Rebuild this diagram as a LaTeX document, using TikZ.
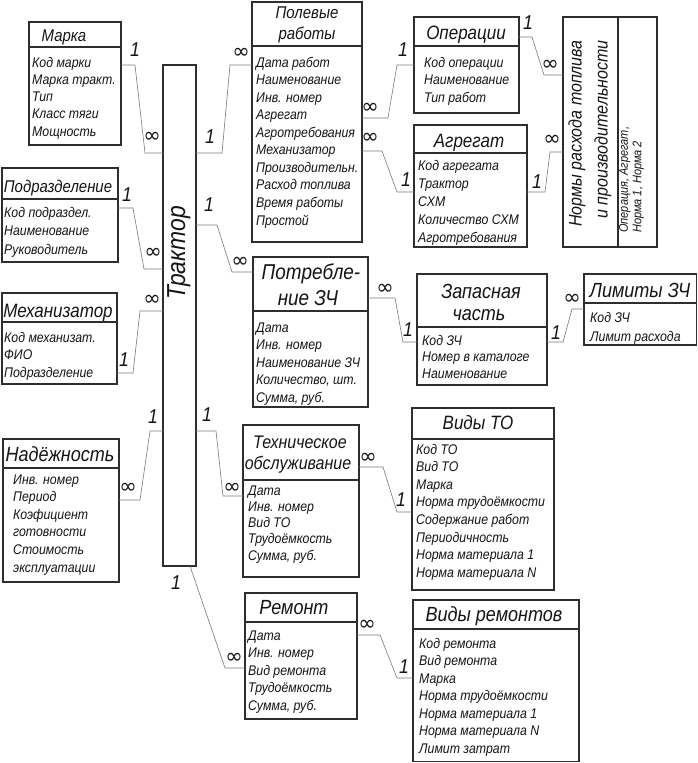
\documentclass[tikz,border=0pt]{standalone}
\usepackage{fontspec}
\setmainfont{Liberation Sans}[FakeStretch=0.88]
\newfontfamily\symf{DejaVu Sans}
\definecolor{boxc}{HTML}{2E2E2E}
\definecolor{connc}{HTML}{7A7A7A}
\definecolor{txtc}{HTML}{151515}
\tikzset{
 ebox/.style={draw=boxc, line width=1.1pt, inner sep=0pt, outer sep=0pt, anchor=north west},
 sepl/.style={draw=boxc, line width=1.1pt},
 conn/.style={draw=connc, line width=0.6pt},
 ttl/.style={font=\fontsize{19.3}{22}\selectfont\itshape, text=txtc, inner sep=0pt, text height=13pt, text depth=0pt},
 bodyt/.style={font=\fontsize{14}{16}\selectfont\itshape, text=txtc, inner sep=0pt, anchor=west, text height=10pt, text depth=0pt},
 one/.style={font=\fontsize{20}{22}\selectfont\itshape, text=txtc, inner sep=0pt},
 inf/.style={font=\fontsize{21}{23}\selectfont\symf, text=txtc, inner sep=0pt},
}
\newcommand\ent[6]{%
 \node[ebox, minimum width={#4-#2}, minimum height={#5-#3}] (#1) at (#2,#3) {};
 \draw[sepl] (#1.west |- 0,#6) -- (#1.east |- 0,#6);}
\newcommand\lines[5]{%
 \foreach \t [count=\i] in {#5} \node[bodyt] (#1\i) at ({#2},{#3+#4*(\i-1)}) {\t};}
\begin{document}
\begin{tikzpicture}[x=1pt,y=-1pt]
\useasboundingbox[fill=white] (0,0) rectangle (698,763);
% ---------- entities ----------
\ent{marka}{29}{22}{121}{145}{47}
\node[ttl, font=\fontsize{17}{20}\selectfont\itshape] (markaT) at (64,35) {Марка};
\lines{markaL}{32}{62}{17.3}{Код марки,Марка тракт.,Тип,Класс тяги,Мощность}

\ent{podr}{2}{168}{118}{262}{199}
\node[ttl, font=\fontsize{17}{20}\selectfont\itshape] (podrT) at (58,186) {Подразделение};
\lines{podrL}{4}{212}{18.5}{Код подраздел.,Наименование,Руководитель}

\ent{mech}{2}{293}{117}{384}{322}
\node[ttl] (mechT) at (58,311) {Механизатор};
\lines{mechL}{4}{337}{17.5}{Код механизат.,ФИО,Подразделение}

\ent{nad}{3}{439}{119}{582}{468}
\node[ttl, font=\fontsize{20.5}{23}\selectfont\itshape] (nadT) at (60,455) {Надёжность};
\lines{nadL}{13}{479}{17.6}{Инв. номер,Период,Коэфициент,готовности,Стоимость,эксплуатации}

\node[ebox, minimum width=33, minimum height=501] (trak) at (163,65) {};
\node[font=\fontsize{26}{29}\selectfont\itshape, text=txtc, rotate=90, inner sep=0pt] (trakT) at (179,253) {Трактор};

\ent{polev}{252}{2}{362}{242}{46}
\node[ttl, font=\fontsize{17}{20}\selectfont\itshape] (polevT1) at (307,12) {Полевые};
\node[ttl, font=\fontsize{17}{20}\selectfont\itshape] (polevT2) at (307,33) {работы};
\lines{polevL}{256}{62}{17.56}{Дата работ,Наименование,Инв. номер,Агрегат,Агротребования,Механизатор,Производительн.,Расход топлива,Время работы,Простой}

\ent{oper}{414}{17}{519}{113}{46}
\node[ttl] (operT) at (466,33) {Операции};
\lines{operL}{424}{62}{17.5}{Код операции,Наименование,Тип работ}

\ent{agr}{414}{125}{527}{247}{153}
\node[ttl] (agrT) at (469,141) {Агрегат};
\lines{agrL}{418}{165}{18}{Код агрегата,Трактор,СХМ,Количество СХМ,Агротребования}

\node[ebox, minimum width=94, minimum height=230] (norm) at (563,17) {};
\draw[sepl] (norm.north -| 618,0) -- (norm.south -| 618,0);
\node[font=\fontsize{18.2}{26}\selectfont\itshape, text=txtc, rotate=90, inner sep=0pt, anchor=east, align=right] (normT) at (590,40) {Нормы расхода топлива\\и производительности};
\node[font=\fontsize{12.5}{13.5}\selectfont\itshape, text=txtc, rotate=90, inner sep=0pt, anchor=west, align=left] (normL) at (631.5,233) {Операция, Агрегат,\\Норма 1, Норма 2};

\ent{potr}{253}{257}{368}{407}{311}
\node[ttl, font=\fontsize{21.5}{24}\selectfont\itshape] (potrT1) at (311,273) {Потребле-};
\node[ttl, font=\fontsize{21.5}{24}\selectfont\itshape] (potrT2) at (308,299) {ние ЗЧ};
\lines{potrL}{256}{327}{17.5}{Дата,Инв. номер,Наименование ЗЧ,{Количество, шт.},{Сумма, руб.}}

\ent{zap}{417}{274}{547}{385}{327}
\node[ttl, font=\fontsize{20.5}{23}\selectfont\itshape] (zapT1) at (481,292) {Запасная};
\node[ttl, font=\fontsize{20.5}{23}\selectfont\itshape] (zapT2) at (479,314) {часть};
\lines{zapL}{422}{340}{16.5}{Код ЗЧ,Номер в каталоге,Наименование}

\ent{lim}{584}{274}{696.5}{345}{303}
\node[ttl, font=\fontsize{20.5}{23}\selectfont\itshape] (limT) at (640,291) {Лимиты ЗЧ};
\lines{limL}{590}{317}{19}{Код ЗЧ,Лимит расхода}

\ent{tob}{243}{425}{359}{577}{480}
\node[ttl, font=\fontsize{18.2}{21}\selectfont\itshape] (tobT1) at (300,442) {Техническое};
\node[ttl, font=\fontsize{18.2}{21}\selectfont\itshape] (tobT2) at (298,463) {обслуживание};
\lines{tobL}{248}{490}{16.3}{Дата,Инв. номер,Вид ТО,Трудоёмкость,{Сумма, руб.}}

\ent{vto}{412}{408}{554}{590}{439}
\node[ttl] (vtoT) at (478,423) {Виды ТО};
\lines{vtoL}{416}{449}{17.6}{Код ТО,Вид ТО,Марка,Норма трудоёмкости,Содержание работ,Периодичность,Норма материала 1,Норма материала N}

\ent{rem}{245}{593}{357}{719}{622}
\node[ttl, font=\fontsize{20.5}{23}\selectfont\itshape] (remT) at (294,608) {Ремонт};
\lines{remL}{248}{635}{17.5}{Дата,Инв. номер,Вид ремонта,Трудоёмкость,{Сумма, руб.}}

\ent{vrem}{413}{600}{579}{761.5}{629}
\node[ttl, font=\fontsize{20.5}{23}\selectfont\itshape] (vremT) at (494,615) {Виды ремонтов};
\lines{vremL}{419}{643}{17.5}{Код ремонта,Вид ремонта,Марка,Норма трудоёмкости,Норма материала 1,Норма материала N,Лимит затрат}

% ---------- connectors ----------
\draw[conn] (marka.east |- 0,65) -- (135,65) -- (145,153) -- (trak.west |- 0,153);
\node[one] (c1a) at (135,50) {1}; \node[inf] (c1b) at (152,137) {∞};
\draw[conn] (podr.east |- 0,208) -- (133,208) -- (144,269) -- (trak.west |- 0,269);
\node[one] (c2a) at (127,195) {1}; \node[inf] (c2b) at (153,253) {∞};
\draw[conn] (mech.east |- 0,373) -- (133,373) -- (140,311) -- (trak.west |- 0,311);
\node[one] (c3a) at (124,360) {1}; \node[inf] (c3b) at (152,300) {∞};
\draw[conn] (nad.east |- 0,500) -- (140,500) -- (150,431) -- (trak.west |- 0,431);
\node[inf] (c4a) at (128,488) {∞}; \node[one] (c4b) at (153,417) {1};
\draw[conn] (trak.east |- 0,153) -- (222,153) -- (230,65) -- (polev.west |- 0,65);
\node[one] (c5a) at (210,137) {1}; \node[inf] (c5b) at (241,53) {∞};
\draw[conn] (trak.east |- 0,225) -- (217,225) -- (232,272) -- (potr.west |- 0,272);
\node[one] (c6a) at (209,205) {1}; \node[inf] (c6b) at (240,262) {∞};
\draw[conn] (trak.east |- 0,431) -- (216,431) -- (223,496) -- (tob.west |- 0,496);
\node[one] (c7a) at (207,415) {1}; \node[inf] (c7b) at (232,488) {∞};
\draw[conn] (trak.south -| 190,0) -- (225,668) -- (rem.west |- 0,668);
\node[one] (c8a) at (176,583) {1}; \node[inf] (c8b) at (234,658) {∞};
\draw[conn] (polev.east |- 0,118) -- (388,118) -- (397,65) -- (oper.west |- 0,65);
\node[inf] (c9a) at (370,108) {∞}; \node[one] (c9b) at (403,50) {1};
\draw[conn] (polev.east |- 0,151) -- (382,151) -- (397,192) -- (agr.west |- 0,192);
\node[inf] (c10a) at (370,138) {∞}; \node[one] (c10b) at (406,180) {1};
\draw[conn] (oper.east |- 0,37) -- (532,37) -- (544,75) -- (norm.west |- 0,75);
\node[one] (c11a) at (528,23) {1}; \node[inf] (c11b) at (550,65) {∞};
\draw[conn] (agr.east |- 0,192) -- (545,192) -- (550,152) -- (norm.west |- 0,152);
\node[inf] (c12a) at (552,140) {∞}; \node[one] (c12b) at (537,182) {1};
\draw[conn] (potr.east |- 0,298) -- (395,298) -- (403,342) -- (zap.west |- 0,342);
\node[inf] (c13a) at (385,289) {∞}; \node[one] (c13b) at (408,330) {1};
\draw[conn] (zap.east |- 0,342) -- (563,342) -- (572,309) -- (lim.west |- 0,309);
\node[inf] (c14a) at (572,299) {∞}; \node[one] (c14b) at (556,333) {1};
\draw[conn] (tob.east |- 0,467) -- (383,467) -- (397,512) -- (vto.west |- 0,512);
\node[inf] (c15a) at (368,458) {∞}; \node[one] (c15b) at (401,500) {1};
\draw[conn] (rem.east |- 0,635) -- (380,635) -- (397,678) -- (vrem.west |- 0,678);
\node[inf] (c16a) at (367,625) {∞}; \node[one] (c16b) at (404,667) {1};
\end{tikzpicture}
\end{document}
